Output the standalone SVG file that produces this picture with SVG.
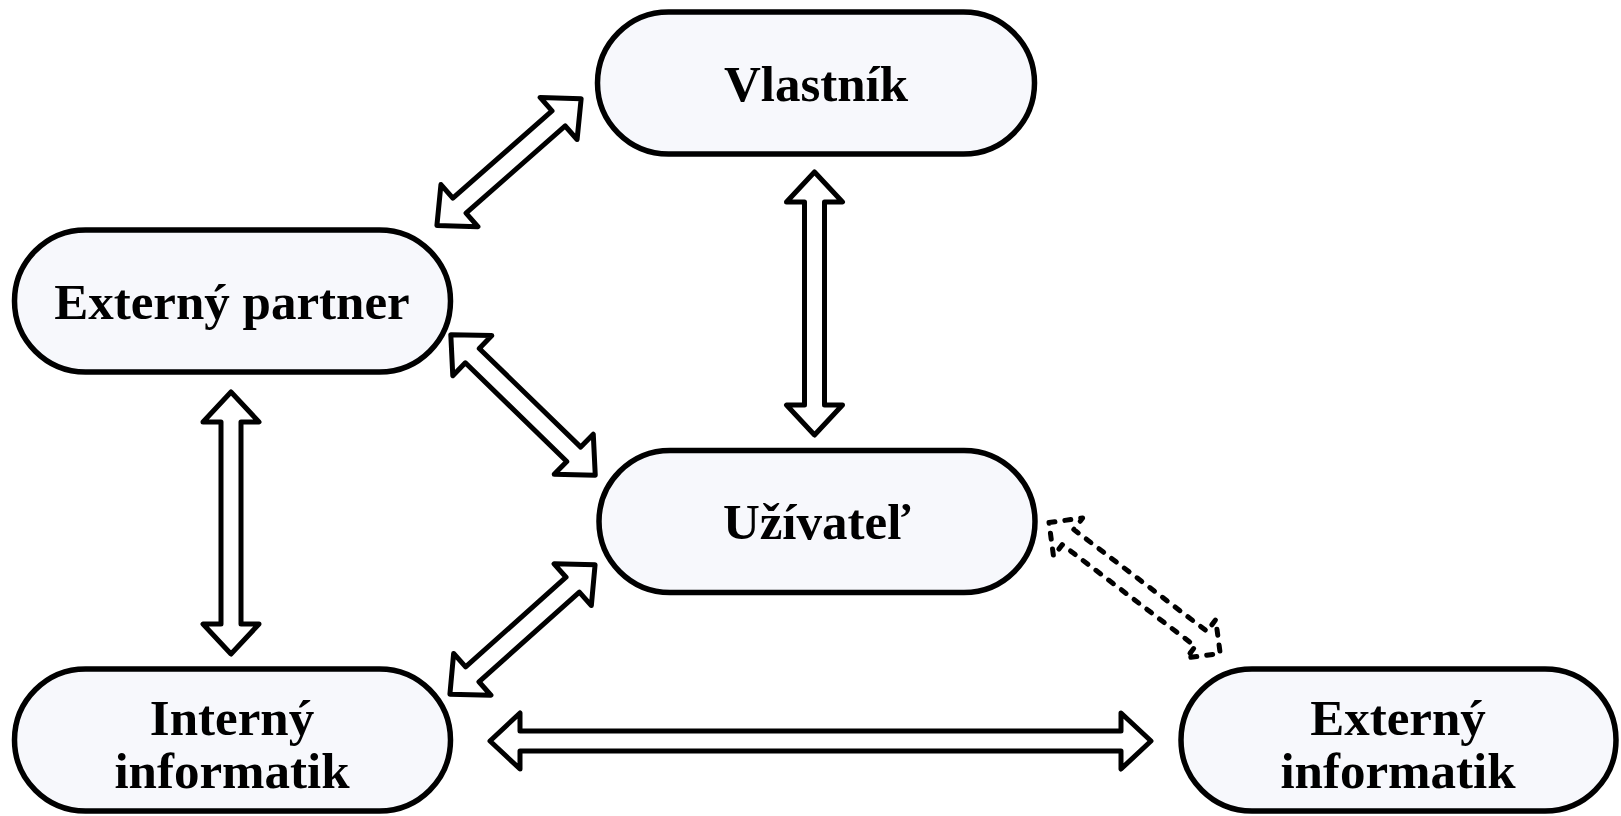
<svg xmlns="http://www.w3.org/2000/svg" width="1621" height="816" viewBox="0 0 1621 816">
  <style>
    .node rect { fill: #f7f8fc; stroke: #000; stroke-width: 5.5; }
    .node text { font-family: "Liberation Serif", "Times New Roman", serif; font-weight: bold; font-size: 51px; fill: #000; text-anchor: middle; }
    .arrow { fill: #fff; stroke: #000; stroke-width: 5; stroke-linejoin: round; }
    .arrow.dashed { stroke-width: 5; stroke-dasharray: 6 10; stroke-linecap: round; }
  </style>
  <rect width="1621" height="816" fill="#fff"/>

  <!-- connectors: outlined double-headed block arrows, drawn along local x axis -->
  <g id="connectors">
    <!-- Vlastník <-> Užívateľ -->
    <path class="arrow" transform="translate(814.5,172) rotate(90)"
          d="M0,0 L30,-28 L30,-10 L233,-10 L233,-28 L263,0 L233,28 L233,10 L30,10 L30,28 Z"/>
    <!-- Externý partner <-> Interný informatik -->
    <path class="arrow" transform="translate(231,392) rotate(90)"
          d="M0,0 L30,-28 L30,-10 L232,-10 L232,-28 L262,0 L232,28 L232,10 L30,10 L30,28 Z"/>
    <!-- Interný informatik <-> Externý informatik -->
    <path class="arrow" transform="translate(490,741)"
          d="M0,0 L30,-28 L30,-10 L631,-10 L631,-28 L661,0 L631,28 L631,10 L30,10 L30,28 Z"/>
    <!-- Externý partner <-> Vlastník -->
    <path class="arrow" transform="translate(436.9,225.4) rotate(-41.3)"
          d="M0,0 L30,-28 L30,-10 L162,-10 L162,-28 L192,0 L162,28 L162,10 L30,10 L30,28 Z"/>
    <!-- Externý partner <-> Užívateľ -->
    <path class="arrow" transform="translate(450.8,334.7) rotate(44.2)"
          d="M0,0 L30,-28 L30,-10 L171.5,-10 L171.5,-28 L201.5,0 L171.5,28 L171.5,10 L30,10 L30,28 Z"/>
    <!-- Interný informatik <-> Užívateľ -->
    <path class="arrow" transform="translate(449.9,694.3) rotate(-41.75)"
          d="M0,0 L30,-28 L30,-10 L164.6,-10 L164.6,-28 L194.6,0 L164.6,28 L164.6,10 L30,10 L30,28 Z"/>
    <!-- Užívateľ <-> Externý informatik (dashed) -->
    <path class="arrow dashed" transform="translate(1049,522.5) rotate(37.4)"
          d="M0,0 L24,-24 L24,-9.5 L191.5,-9.5 L191.5,-24 L215.5,0 L191.5,24 L191.5,9.5 L24,9.5 L24,24 Z"/>
  </g>

  <g id="vlastnik" class="node">
    <rect x="597.5" y="12" width="437" height="142" rx="71"/>
    <text x="816" y="101">Vlastník</text>
  </g>

  <g id="externy-partner" class="node">
    <rect x="14.5" y="230" width="436" height="142" rx="71"/>
    <text x="232" y="319">Externý partner</text>
  </g>

  <g id="uzivatel" class="node">
    <rect x="599" y="450.5" width="436" height="142" rx="71"/>
    <text x="817" y="539">Užívateľ</text>
  </g>

  <g id="interny-informatik" class="node">
    <rect x="14.5" y="669" width="436" height="142" rx="71"/>
    <text x="232" y="735">Interný</text>
    <text x="232" y="788">informatik</text>
  </g>

  <g id="externy-informatik" class="node">
    <rect x="1181" y="669" width="435" height="142" rx="71"/>
    <text x="1398" y="735">Externý</text>
    <text x="1398" y="788">informatik</text>
  </g>
</svg>
